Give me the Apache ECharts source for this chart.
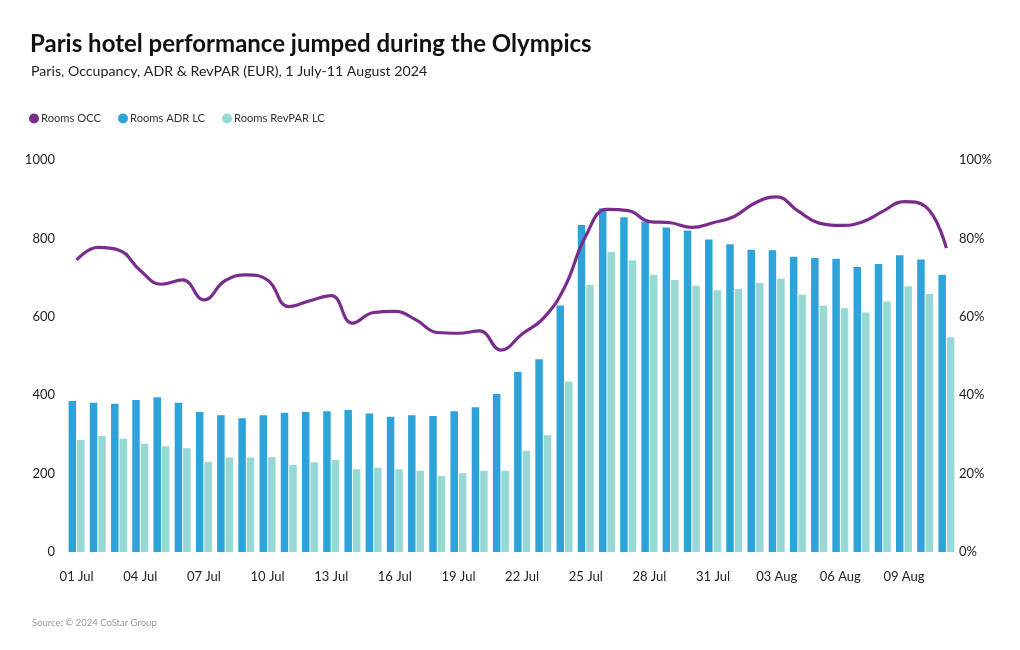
<!DOCTYPE html>
<html>
<head>
<meta charset="utf-8">
<script src="https://cdn.jsdelivr.net/npm/echarts@6/dist/echarts.min.js"></script>
<style>
html,body{margin:0;padding:0;background:#fff;}
#c{width:1020px;height:650px;}
</style>
</head>
<body>
<div id="c"></div>
<script>
const categories = ["01 Jul","02 Jul","03 Jul","04 Jul","05 Jul","06 Jul","07 Jul","08 Jul","09 Jul","10 Jul","11 Jul","12 Jul","13 Jul","14 Jul","15 Jul","16 Jul","17 Jul","18 Jul","19 Jul","20 Jul","21 Jul","22 Jul","23 Jul","24 Jul","25 Jul","26 Jul","27 Jul","28 Jul","29 Jul","30 Jul","31 Jul","01 Aug","02 Aug","03 Aug","04 Aug","05 Aug","06 Aug","07 Aug","08 Aug","09 Aug","10 Aug","11 Aug"];
const roomsOcc = [74.5,77.7,77.0,71.8,68.3,69.4,64.3,69.2,70.7,69.4,62.6,64.1,65.4,58.4,61.1,61.4,59.2,56.0,55.8,56.4,51.5,55.6,59.6,67.5,80.6,87.4,87.1,84.3,84.0,82.8,84.0,85.6,89.1,90.6,87.0,83.9,83.3,84.1,86.9,89.4,88.2,77.5];
const roomsAdr = [385,381,378,388,395,381,357,349,341,349,355,357,359,362,353,345,349,347,359,369,403,459,492,629,834,877,854,843,828,820,797,785,771,770,753,750,748,727,735,757,746,707];
const roomsRevpar = [286,296,289,276,270,265,230,241,241,242,222,229,235,211,215,211,207,194,201,207,207,258,298,434,681,765,744,707,694,679,668,671,686,697,656,628,622,611,639,678,658,548];
const leftTicks = {min:0,max:1000,interval:200};
const rightTicks = {min:0,max:100,interval:20};

const FONT = "Lato, 'Noto Sans', sans-serif";
const chart = echarts.init(document.getElementById('c'));
chart.setOption({
  backgroundColor:'#fff',
  animation:false,
  textStyle:{fontFamily:FONT},
  title:[
    {text:'Paris hotel performance jumped during the Olympics',left:25,top:27,
     textStyle:{fontFamily:FONT,fontSize:24,fontWeight:'bold',color:'#111'}},
    {text:'Paris, Occupancy, ADR & RevPAR (EUR), 1 July-11 August 2024',left:26,top:59,
     textStyle:{fontFamily:FONT,fontSize:14.2,fontWeight:'normal',color:'#222'}},
    {text:'Source: © 2024 CoStar Group',left:27,top:613,
     textStyle:{fontFamily:FONT,fontSize:9.5,fontWeight:'normal',color:'#999'}}
  ],
  legend:{
    left:24,top:108,icon:'circle',itemWidth:10,itemHeight:10,itemGap:17,
    textStyle:{fontFamily:FONT,fontSize:11.2,color:'#333',padding:[0,0,0,-3]},
    data:['Rooms OCC','Rooms ADR LC','Rooms RevPAR LC']
  },
  grid:{left:66,right:63,top:160,bottom:98,containLabel:false},
  xAxis:{
    type:'category',data:categories,
    axisLine:{show:false},axisTick:{show:false},
    axisLabel:{interval:2,color:'#222',fontSize:13,margin:18,fontFamily:FONT}
  },
  yAxis:[
    {type:'value',min:leftTicks.min,max:leftTicks.max,interval:leftTicks.interval,
     splitLine:{show:false},axisLine:{show:false},axisTick:{show:false},
     axisLabel:{color:'#222',fontSize:13,margin:11,fontFamily:FONT,formatter:function(v){return String(v);}}},
    {type:'value',min:rightTicks.min,max:rightTicks.max,interval:rightTicks.interval,
     splitLine:{show:false},axisLine:{show:false},axisTick:{show:false},
     axisLabel:{color:'#222',fontSize:13,margin:2,formatter:'{value}%',fontFamily:FONT}}
  ],
  series:[
    {name:'Rooms OCC',type:'line',yAxisIndex:1,data:roomsOcc,smooth:0.45,symbol:'none',
     lineStyle:{color:'#7A2C8C',width:3.2},itemStyle:{color:'#7A2C8C'},z:5},
    {name:'Rooms ADR LC',type:'bar',yAxisIndex:0,data:roomsAdr,barWidth:7.5,barGap:'13%',
     itemStyle:{color:'#2EA3DA'}},
    {name:'Rooms RevPAR LC',type:'bar',yAxisIndex:0,data:roomsRevpar,barWidth:7.5,barGap:'13%',
     itemStyle:{color:'#96D8D4'}}
  ]
});
</script>
</body>
</html>
